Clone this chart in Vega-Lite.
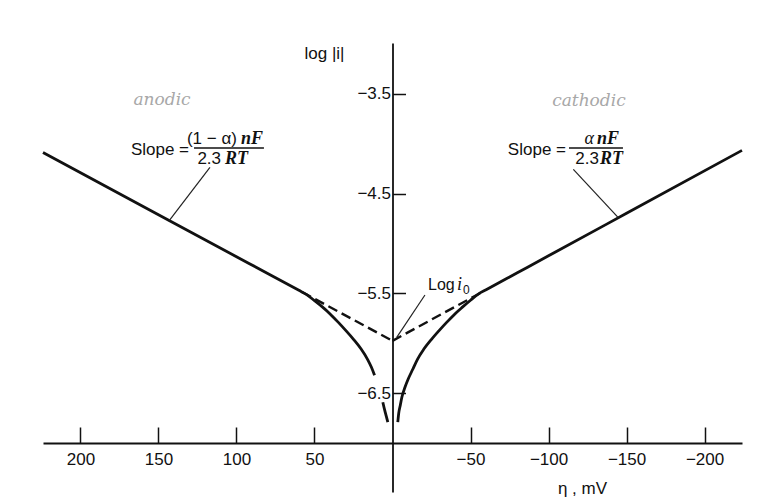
{
  "$schema": "https://vega.github.io/schema/vega-lite/v6.json",
  "width": 699,
  "height": 449,
  "autosize": "none",
  "padding": {"left": 43, "top": 43, "right": 21, "bottom": 11},
  "background": "white",
  "config": {"view": {"stroke": null}},
  "datasets": {
    "current": [
      {"eta": 224, "logi": -4.087, "seg": "an1"},
      {"eta": 150, "logi": -4.711, "seg": "an1"},
      {"eta": 100, "logi": -5.132, "seg": "an1"},
      {"eta": 80, "logi": -5.300, "seg": "an1"},
      {"eta": 60, "logi": -5.469, "seg": "an1"},
      {"eta": 55, "logi": -5.512, "seg": "an1"},
      {"eta": 50, "logi": -5.572, "seg": "an1"},
      {"eta": 45, "logi": -5.635, "seg": "an1"},
      {"eta": 40, "logi": -5.705, "seg": "an1"},
      {"eta": 35, "logi": -5.785, "seg": "an1"},
      {"eta": 30, "logi": -5.870, "seg": "an1"},
      {"eta": 25, "logi": -5.960, "seg": "an1"},
      {"eta": 20, "logi": -6.060, "seg": "an1"},
      {"eta": 16, "logi": -6.160, "seg": "an1"},
      {"eta": 13.5, "logi": -6.240, "seg": "an1"},
      {"eta": 11.5, "logi": -6.32, "seg": "an1"},
      {"eta": 6.2, "logi": -6.59, "seg": "an2"},
      {"eta": 5, "logi": -6.67, "seg": "an2"},
      {"eta": 4, "logi": -6.73, "seg": "an2"},
      {"eta": 3, "logi": -6.79, "seg": "an2"},
      {"eta": -224, "logi": -4.066, "seg": "ca"},
      {"eta": -150, "logi": -4.697, "seg": "ca"},
      {"eta": -100, "logi": -5.123, "seg": "ca"},
      {"eta": -80, "logi": -5.293, "seg": "ca"},
      {"eta": -60, "logi": -5.463, "seg": "ca"},
      {"eta": -55, "logi": -5.506, "seg": "ca"},
      {"eta": -50, "logi": -5.568, "seg": "ca"},
      {"eta": -45, "logi": -5.635, "seg": "ca"},
      {"eta": -40, "logi": -5.705, "seg": "ca"},
      {"eta": -35, "logi": -5.785, "seg": "ca"},
      {"eta": -30, "logi": -5.870, "seg": "ca"},
      {"eta": -25, "logi": -5.960, "seg": "ca"},
      {"eta": -20, "logi": -6.060, "seg": "ca"},
      {"eta": -16, "logi": -6.160, "seg": "ca"},
      {"eta": -13, "logi": -6.26, "seg": "ca"},
      {"eta": -10, "logi": -6.36, "seg": "ca"},
      {"eta": -8, "logi": -6.44, "seg": "ca"},
      {"eta": -6, "logi": -6.54, "seg": "ca"},
      {"eta": -5, "logi": -6.62, "seg": "ca"},
      {"eta": -4, "logi": -6.70, "seg": "ca"},
      {"eta": -3.4, "logi": -6.79, "seg": "ca"}
    ],
    "tafel": [
      {"eta": 0, "logi": -5.975, "side": "anodic"},
      {"eta": 58, "logi": -5.486, "side": "anodic"},
      {"eta": 0, "logi": -5.975, "side": "cathodic"},
      {"eta": -58, "logi": -5.481, "side": "cathodic"}
    ],
    "leaders": [
      {"eta": 117.0, "logi": -4.236, "eta2": 143.1, "logi2": -4.77},
      {"eta": -115.9, "logi": -4.256, "eta2": -144.7, "logi2": -4.74},
      {"eta": -20.8, "logi": -5.516, "eta2": -2.7, "logi2": -5.94}
    ],
    "fractionBars": [
      {"eta": 127.2, "eta2": 82.4, "logi": -4.042},
      {"eta": -113.1, "eta2": -147.7, "logi": -4.042}
    ],
    "sansRight": [
      {"eta": 130.4, "logi": -4.062, "txt": "Slope ="},
      {"eta": 99.7, "logi": -3.952, "txt": "(1 − α)"},
      {"eta": 109.9, "logi": -4.153, "txt": "2.3"},
      {"eta": -111.2, "logi": -4.062, "txt": "Slope ="},
      {"eta": -132.3, "logi": -4.153, "txt": "2.3"}
    ],
    "mathRight": [
      {"eta": -129.1, "logi": -3.952, "txt": "α"}
    ],
    "mathLeft": [
      {"eta": 97.1, "logi": -3.952, "txt": "nF"},
      {"eta": 107.3, "logi": -4.153, "txt": "RT"},
      {"eta": -131.1, "logi": -3.952, "txt": "nF"},
      {"eta": -133.0, "logi": -4.153, "txt": "RT"}
    ],
    "exchange": [
      {"eta": -22.75, "logi": -5.415, "txt": "Log"}
    ],
    "exchangeI": [
      {"eta": -41.3, "logi": -5.415, "txt": "i"}
    ],
    "exchangeSub": [
      {"eta": -45.2, "logi": -5.47, "txt": "0"}
    ],
    "notes": [
      {"eta": 147.7, "logi": -3.561, "txt": "anodic"},
      {"eta": -125.9, "logi": -3.571, "txt": "cathodic"}
    ]
  },
  "encoding": {
    "x": {
      "field": "eta",
      "type": "quantitative",
      "scale": {"domain": [-224, 224], "reverse": true, "nice": false, "zero": false},
      "axis": {
        "orient": "bottom",
        "offset": -49,
        "values": [200, 150, 100, 50, -50, -100, -150, -200],
        "format": "d",
        "grid": false,
        "domainColor": "#111",
        "domainWidth": 1.8,
        "tickColor": "#111",
        "tickWidth": 1.5,
        "tickSize": -16,
        "labelPadding": 24,
        "labelFont": "Liberation Sans, Arial, sans-serif",
        "labelFontSize": 17,
        "labelColor": "#111",
        "labelOverlap": false,
        "labelFlush": false,
        "title": "η , mV",
        "titleFont": "Liberation Sans, Arial, sans-serif",
        "titleFontSize": 17,
        "titleFontWeight": "normal",
        "titleColor": "#111",
        "titleX": 539,
        "titleY": 45,
        "titleAlign": "center",
        "titleBaseline": "middle"
      }
    },
    "y": {
      "field": "logi",
      "type": "quantitative",
      "scale": {"domain": [-7.49, -2.99], "nice": false, "zero": false},
      "axis": {
        "orient": "left",
        "offset": -349.5,
        "values": [-3.5, -4.5, -5.5, -6.5],
        "format": ".1f",
        "grid": false,
        "domainColor": "#111",
        "domainWidth": 1.8,
        "tickColor": "#111",
        "tickWidth": 1.5,
        "tickSize": -13,
        "labelPadding": 15,
        "labelFont": "Liberation Sans, Arial, sans-serif",
        "labelFontSize": 17,
        "labelColor": "#111",
        "labelOverlap": false,
        "labelFlush": false,
        "title": "log |i|",
        "titleFont": "Liberation Sans, Arial, sans-serif",
        "titleFontSize": 17,
        "titleFontWeight": "normal",
        "titleColor": "#111",
        "titleAngle": 0,
        "titleX": -68.5,
        "titleY": 10,
        "titleAlign": "center",
        "titleBaseline": "middle"
      }
    }
  },
  "layer": [
    {
      "data": {"name": "current"},
      "mark": {"type": "line", "color": "#111", "strokeWidth": 2.8, "interpolate": "monotone", "strokeCap": "butt"},
      "encoding": {"detail": {"field": "seg"}}
    },
    {
      "data": {"name": "tafel"},
      "mark": {"type": "line", "color": "#111", "strokeWidth": 2.4, "strokeDash": [10, 5]},
      "encoding": {"detail": {"field": "side"}}
    },
    {
      "data": {"name": "leaders"},
      "mark": {"type": "rule", "color": "#222", "strokeWidth": 1.2},
      "encoding": {"x2": {"field": "eta2"}, "y2": {"field": "logi2"}}
    },
    {
      "data": {"name": "fractionBars"},
      "mark": {"type": "rule", "color": "#111", "strokeWidth": 1.4},
      "encoding": {"x2": {"field": "eta2"}}
    },
    {
      "data": {"name": "sansRight"},
      "mark": {"type": "text", "align": "right", "baseline": "middle", "font": "Liberation Sans, Arial, sans-serif", "fontSize": 17, "color": "#111"},
      "encoding": {"text": {"field": "txt"}}
    },
    {
      "data": {"name": "mathRight"},
      "mark": {"type": "text", "align": "right", "baseline": "middle", "font": "Liberation Serif, serif", "fontStyle": "italic", "fontSize": 18, "color": "#111"},
      "encoding": {"text": {"field": "txt"}}
    },
    {
      "data": {"name": "mathLeft"},
      "mark": {"type": "text", "align": "left", "baseline": "middle", "font": "Liberation Serif, serif", "fontStyle": "italic", "fontWeight": "bold", "fontSize": 18, "color": "#111"},
      "encoding": {"text": {"field": "txt"}}
    },
    {
      "data": {"name": "exchange"},
      "mark": {"type": "text", "align": "left", "baseline": "middle", "font": "Liberation Sans, Arial, sans-serif", "fontSize": 16, "color": "#111"},
      "encoding": {"text": {"field": "txt"}}
    },
    {
      "data": {"name": "exchangeI"},
      "mark": {"type": "text", "align": "left", "baseline": "middle", "font": "Liberation Serif, serif", "fontStyle": "italic", "fontSize": 18, "color": "#111"},
      "encoding": {"text": {"field": "txt"}}
    },
    {
      "data": {"name": "exchangeSub"},
      "mark": {"type": "text", "align": "left", "baseline": "middle", "font": "Liberation Sans, Arial, sans-serif", "fontSize": 12, "color": "#111"},
      "encoding": {"text": {"field": "txt"}}
    },
    {
      "data": {"name": "notes"},
      "mark": {"type": "text", "align": "center", "baseline": "middle", "font": "DejaVu Serif, serif", "fontStyle": "italic", "fontSize": 17, "color": "#a8a8a8"},
      "encoding": {"text": {"field": "txt"}}
    }
  ]
}
